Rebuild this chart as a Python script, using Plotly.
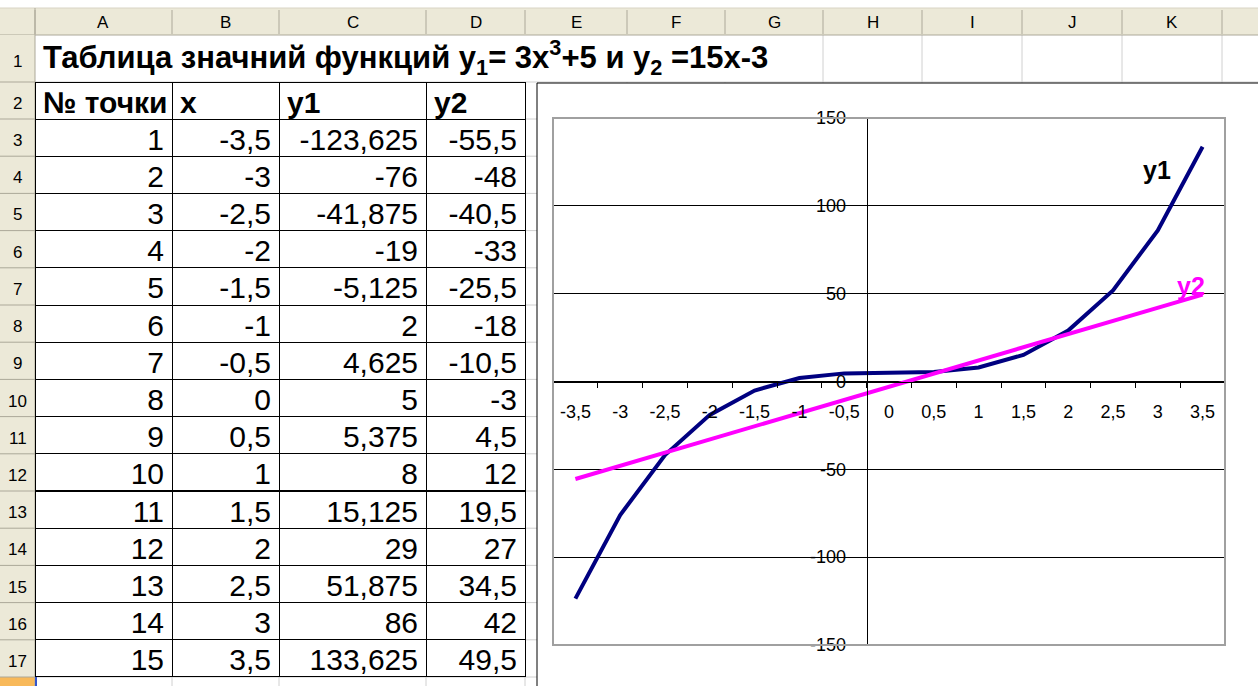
"""Excel sheet: value table for y1 = 3x^3+5, y2 = 15x-3 and the line chart next to it."""

from __future__ import annotations

import plotly.graph_objects as go

# ---- values as typed in the sheet ----
point_no = list(range(1, 16))
x_vals = [-3.5, -3, -2.5, -2, -1.5, -1, -0.5, 0, 0.5, 1, 1.5, 2, 2.5, 3, 3.5]
y1_vals = [-123.625, -76, -41.875, -19, -5.125, 2, 4.625, 5, 5.375, 8,
           15.125, 29, 51.875, 86, 133.625]
y2_vals = [-55.5, -48, -40.5, -33, -25.5, -18, -10.5, -3, 4.5, 12,
           19.5, 27, 34.5, 42, 49.5]
# no-break space: a plain one lets the table grow the header row
table_header = ["№\u00a0точки", "x", "y1", "y2"]
series_names = ["y1", "y2"]
col_letters = ["A", "B", "C", "D", "E", "F", "G", "H", "I", "J", "K"]
y_ticks = [-150, -100, -50, 0, 50, 100, 150]
title_text = ("Таблица значний функций y<sub>1</sub>= 3x<sup>3</sup>+5 "
              "и y<sub>2</sub> =15x-3")

# ---- page geometry (pixels of the 1258x686 screenshot) ----
W, H = 1258, 686
FONT = "Arial, Liberation Sans, sans-serif"
COL_EDGES = [35, 172, 279, 426, 525, 627, 725, 823, 922, 1022, 1122, 1222]
ROW_EDGES = [35, 82, 119] + [119 + 37.2 * k for k in range(1, 17)]
HDR_TOP = 8
PLOT = dict(left=553, top=118, right=1225, bottom=645)
FRAME = dict(left=537, top=83)

HDR_FILL = "#ECE9D8"
HDR_LINE = "#ACA899"
GRID = "#D0D0D0"
Y1_COLOR = "#000080"
Y2_COLOR = "#FF00FF"


def px(x: float) -> float:
    return x / W


def py(y: float) -> float:
    return 1 - y / H


def comma(v: float) -> str:
    return f"{v:g}".replace(".", ",")


def seg(x0, y0, x1, y1, color, width=1, layer="below") -> dict:
    return dict(type="line", xref="paper", yref="paper",
                x0=px(x0), y0=py(y0), x1=px(x1), y1=py(y1),
                line=dict(color=color, width=width), layer=layer)


def box(x0, y0, x1, y1, fill, line_color=None, width=1, layer="below") -> dict:
    return dict(type="rect", xref="paper", yref="paper",
                x0=px(x0), y0=py(y0), x1=px(x1), y1=py(y1),
                fillcolor=fill,
                line=dict(color=line_color or fill, width=width if line_color else 0),
                layer=layer)


def label(x, y, text, size=17, color="black", anchor="center", bold=False) -> dict:
    return dict(x=px(x), y=py(y), xref="paper", yref="paper",
                xanchor=anchor, yanchor="middle", showarrow=False,
                text=f"<b>{text}</b>" if bold else text,
                font=dict(family=FONT, size=size, color=color))


shapes = []
# sheet gridlines; A1:G1 has no inner lines because the title overflows there
for y in ROW_EDGES[1:]:
    shapes.append(seg(COL_EDGES[0], y, W, y, GRID))
for x in COL_EDGES[1:]:
    top = ROW_EDGES[0] if x > 780 else ROW_EDGES[1]
    shapes.append(seg(x, top, x, H, GRID))

# column header strip
shapes.append(box(0, HDR_TOP, W, ROW_EDGES[0], HDR_FILL))
shapes.append(seg(0, HDR_TOP, W, HDR_TOP, "#D8D4C4"))
shapes.append(seg(0, ROW_EDGES[0], W, ROW_EDGES[0], HDR_LINE))
for x in COL_EDGES:
    shapes.append(seg(x, HDR_TOP + 2, x, ROW_EDGES[0] - 1, HDR_LINE))

# row header strip, row 18 highlighted as the active row
shapes.append(box(0, ROW_EDGES[0], COL_EDGES[0], H, HDR_FILL))
shapes.append(box(0, ROW_EDGES[-2], COL_EDGES[0], H, "#F8B95A"))
shapes.append(seg(COL_EDGES[0], HDR_TOP, COL_EDGES[0], H, HDR_LINE))
for y in ROW_EDGES[1:]:
    shapes.append(seg(0, y, COL_EDGES[0], y, HDR_LINE))
shapes.append(seg(COL_EDGES[0] + 1, ROW_EDGES[-2], COL_EDGES[0] + 1, H, "#3355CC", 2))

# chart area frame (runs off the right and bottom of the screen)
shapes.append(box(FRAME["left"], FRAME["top"], W + 40, H + 40, "white", "black", 1))
# plot area border
shapes.append(box(PLOT["left"], PLOT["top"], PLOT["right"], PLOT["bottom"],
                  "rgba(0,0,0,0)", "#A0A0A0", 2, layer="above"))

annotations = []
for i, letter in enumerate(col_letters):
    annotations.append(label((COL_EDGES[i] + COL_EDGES[i + 1]) / 2,
                             (HDR_TOP + ROW_EDGES[0]) / 2 + 1, letter))
for i in range(len(ROW_EDGES) - 1):
    annotations.append(label(COL_EDGES[0] / 2,
                             (ROW_EDGES[i] + ROW_EDGES[i + 1]) / 2 + 3, str(i + 1)))
annotations.append(label(41, 58, title_text, size=31, anchor="left", bold=True))

x_labels = [comma(v) for v in x_vals]

fig = go.Figure()

fig.add_trace(go.Table(
    domain=dict(x=[px(COL_EDGES[0]), px(COL_EDGES[4])],
                y=[py(ROW_EDGES[17] + 2), py(ROW_EDGES[1])]),
    columnwidth=[COL_EDGES[i + 1] - COL_EDGES[i] for i in range(4)],
    header=dict(
        values=table_header,
        align="left", height=ROW_EDGES[2] - ROW_EDGES[1],
        font=dict(family=FONT, size=30, color="black", weight="bold"),
        fill=dict(color="white"), line=dict(color="black", width=1),
    ),
    cells=dict(
        values=[[str(n) for n in point_no],
                x_labels,
                [comma(v) for v in y1_vals],
                [comma(v) for v in y2_vals]],
        align="right", height=ROW_EDGES[3] - ROW_EDGES[2],
        font=dict(family=FONT, size=30, color="black"),
        fill=dict(color="white"), line=dict(color="black", width=1),
    ),
))

for name, vals, color in zip(series_names, [y1_vals, y2_vals], [Y1_COLOR, Y2_COLOR]):
    fig.add_trace(go.Scatter(
        x=x_labels, y=vals, mode="lines", name=name,
        line=dict(color=color, width=4), showlegend=False,
    ))

annotations.append(dict(
    x=len(x_vals) - 1, y=y1_vals[-1], xref="x", yref="y", showarrow=False,
    xanchor="center", yanchor="middle",
    text=f"<b>{series_names[0]}</b>", xshift=-46, yshift=-23,
    font=dict(family=FONT, size=25, color="black"),
))
annotations.append(dict(
    x=len(x_vals) - 1, y=y2_vals[-1], xref="x", yref="y", showarrow=False,
    xanchor="center", yanchor="middle",
    text=f"<b>{series_names[1]}</b>", xshift=-12, yshift=9,
    font=dict(family=FONT, size=25, color=Y2_COLOR),
))

# value axis crosses between the "-0,5" and "0" categories, category axis at y = 0
n_cat = len(x_vals)
first_nonneg = next(i for i, v in enumerate(x_vals) if v >= 0)
yaxis_x = PLOT["left"] + (PLOT["right"] - PLOT["left"]) * first_nonneg / n_cat
xaxis_y = PLOT["top"] + (PLOT["bottom"] - PLOT["top"]) * y_ticks[-1] / (y_ticks[-1] - y_ticks[0])

tick_font = dict(family=FONT, size=18, color="black")
fig.update_layout(
    width=W, height=H,
    margin=dict(l=0, r=0, t=0, b=0),
    paper_bgcolor="white",
    plot_bgcolor="white",
    showlegend=False,
    shapes=shapes,
    annotations=annotations,
    xaxis=dict(
        domain=[px(PLOT["left"]), px(PLOT["right"])],
        type="category", range=[-0.5, n_cat - 0.5],
        anchor="free", position=py(xaxis_y), automargin=False,
        showline=True, linecolor="black", linewidth=1,
        ticks="outside", ticklen=5, tickcolor="black", tickson="boundaries",
        showgrid=False, zeroline=False, tickfont=tick_font, ticklabelstandoff=14,
    ),
    yaxis=dict(
        domain=[py(PLOT["bottom"]), py(PLOT["top"])],
        range=[y_ticks[0], y_ticks[-1]],
        anchor="free", position=px(yaxis_x), automargin=False,
        showline=True, linecolor="black", linewidth=1,
        ticks="outside", ticklen=5, tickcolor="black",
        tickvals=y_ticks, ticktext=[comma(v) for v in y_ticks],
        showgrid=True, gridcolor="black", gridwidth=1, zeroline=False,
        tickfont=tick_font, ticklabelstandoff=12,
    ),
)

fig.write_html(
    "out.html",
    config={"displayModeBar": False},
    post_script="document.body.style.margin='0';document.body.style.overflow='hidden';",
)
